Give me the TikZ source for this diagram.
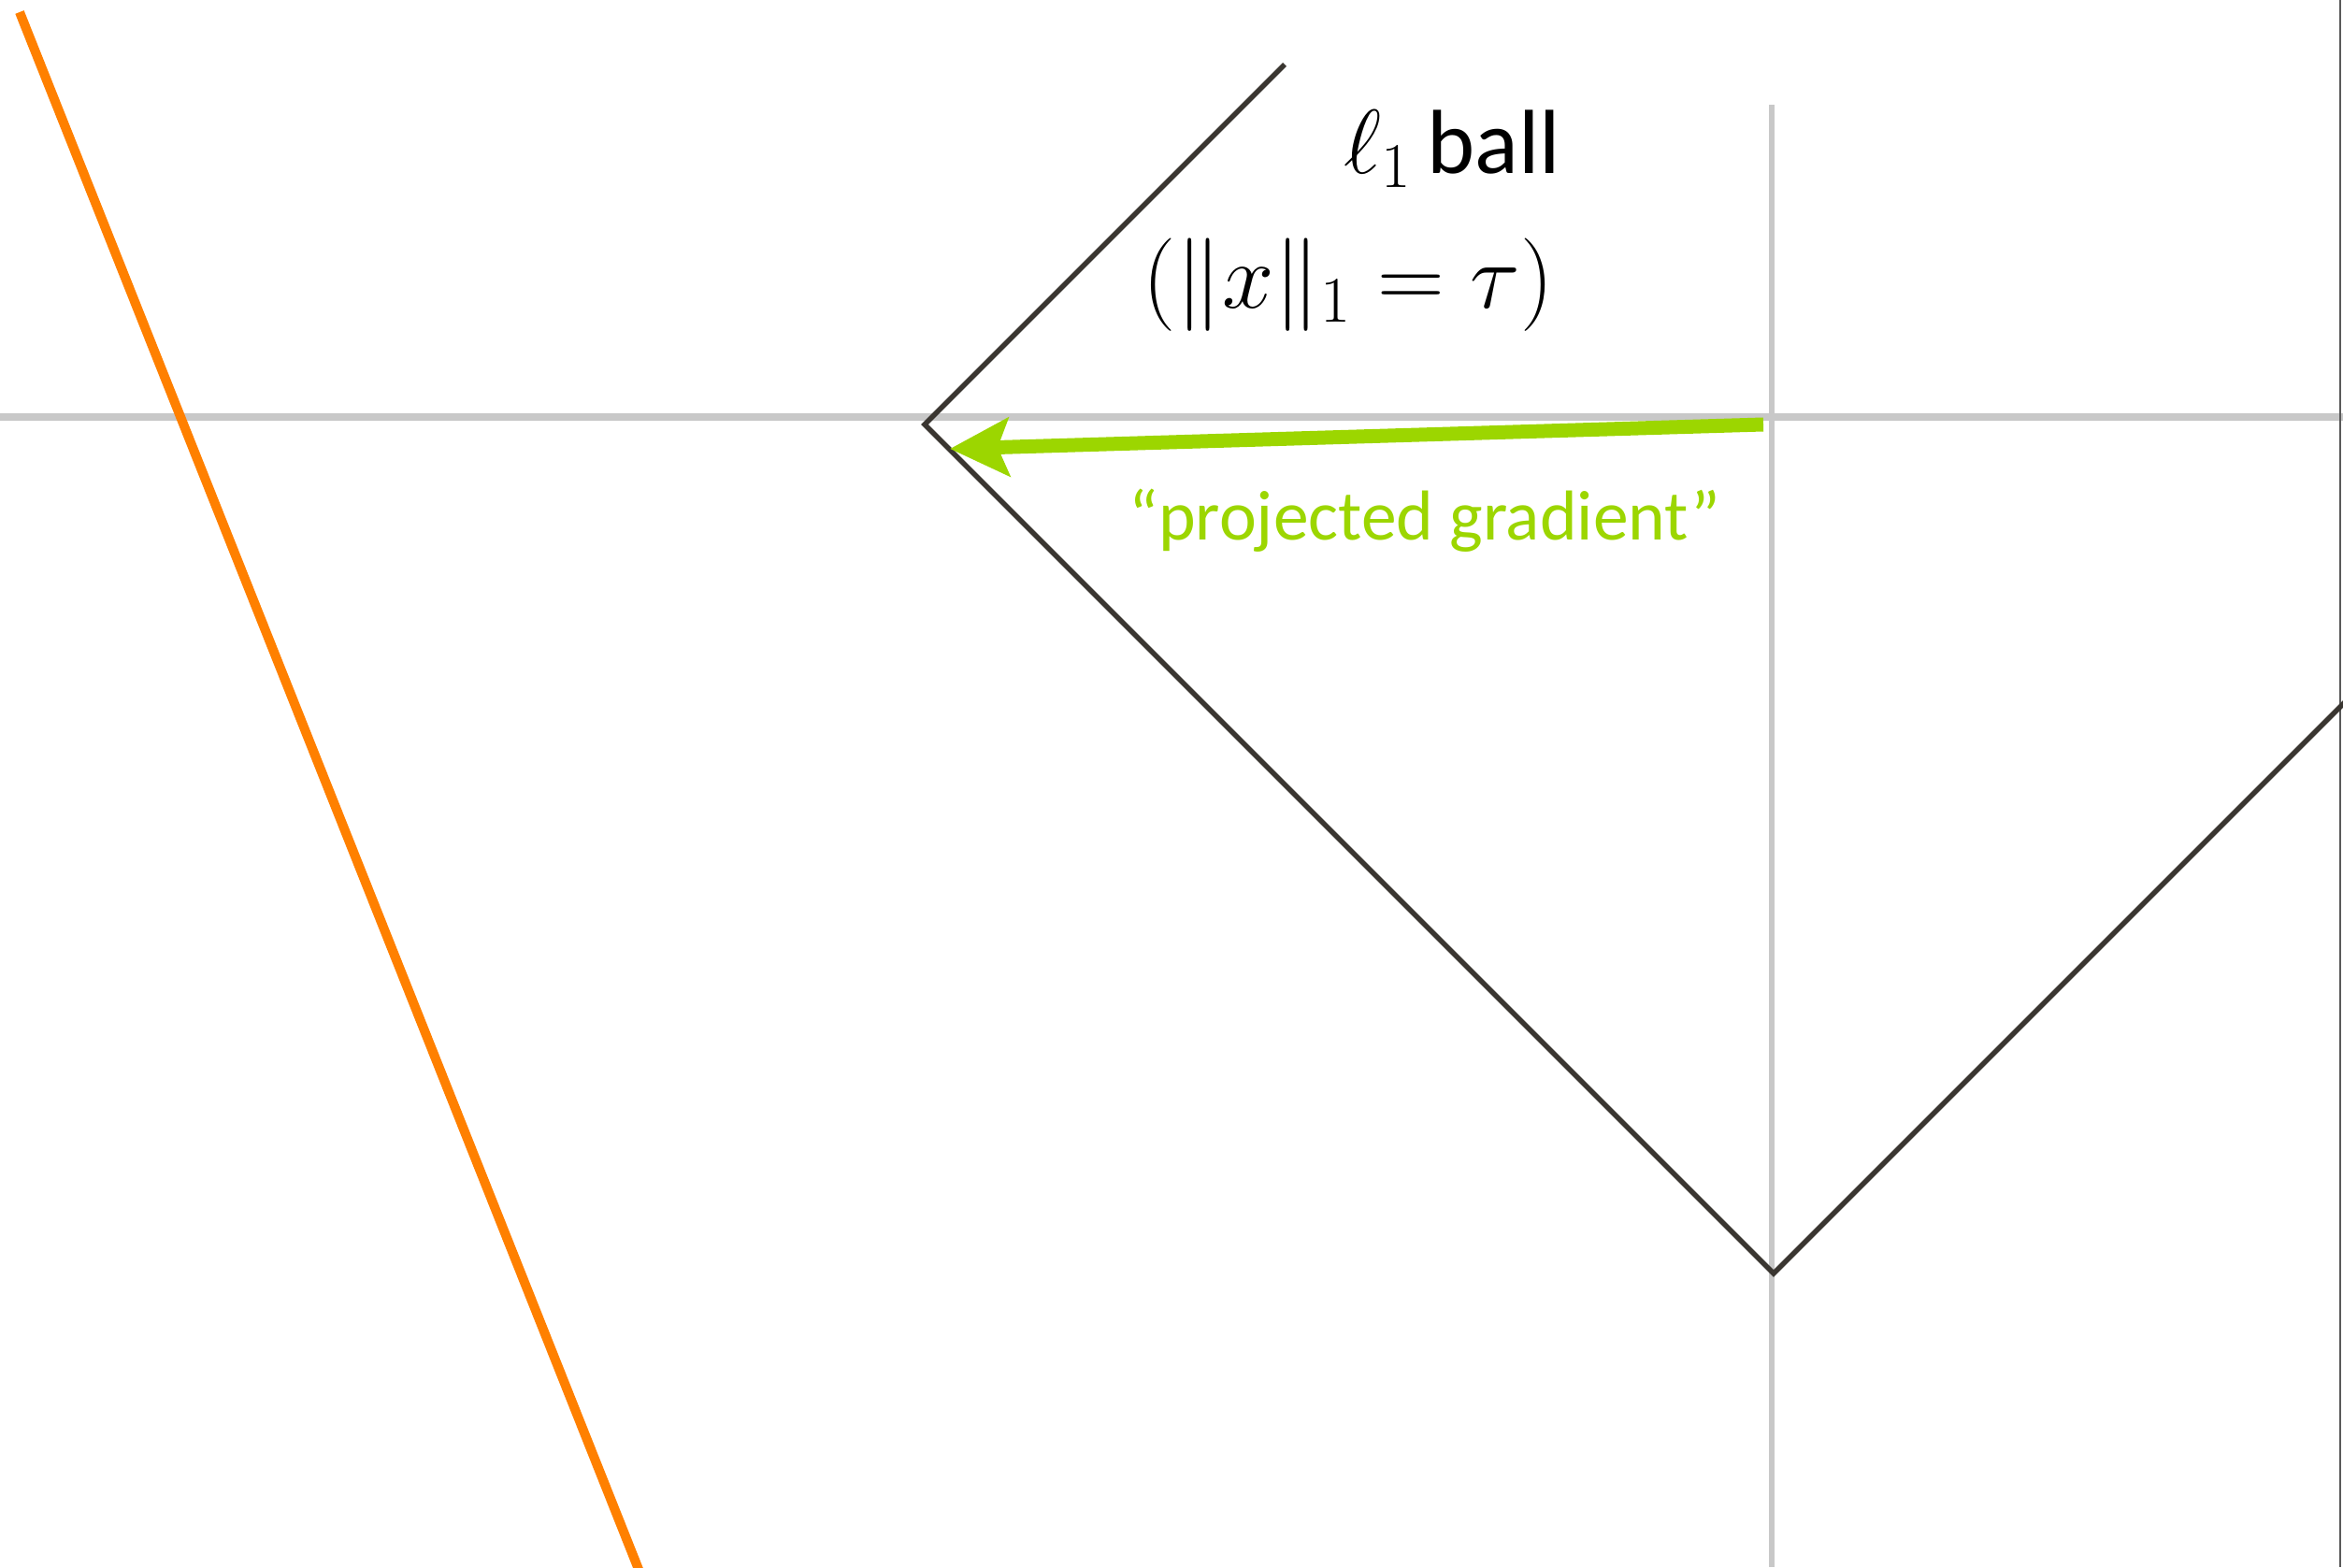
\RequirePackage{fix-cm}
\documentclass[tikz,border=0pt]{standalone}
\usepackage{tikz}
\usetikzlibrary{arrows.meta, positioning, calc}
\usepackage{amsmath}
\usepackage{fontspec}
\newfontfamily\carlito{Carlito}
\definecolor{axisGray}{HTML}{C8C8C8}
\definecolor{ballDark}{HTML}{3A3631}
\definecolor{gradGreen}{HTML}{9CD600}
\definecolor{lineOrange}{HTML}{FF8000}
\definecolor{edgeGray}{HTML}{5A5A5A}

\begin{document}
\begin{tikzpicture}[
    axis/.style={draw=axisGray, line width=0.08cm},
    ball/.style={draw=ballDark, line width=0.055cm, line join=miter},
    grad/.style={draw=gradGreen, line width=0.15cm,
                 -{Stealth[length=0.63cm, width=0.62cm, inset=0.12cm]}},
    lbl/.style={inner sep=0pt, anchor=base,
                font=\fontsize{27.7}{33}\selectfont\color{black}},
    gradlbl/.style={inner sep=0pt, anchor=base,
                font=\carlito\fontsize{21.5}{26}\selectfont\color{gradGreen}},
  ]
    \useasboundingbox (0,0) rectangle (25.06,16.76);
    \clip (0,0) rectangle (25.06,16.76);

    % axes
    \coordinate (O) at (18.97,12.22);
    \draw[axis] (0,12.30) -- (25.06,12.30);
    \draw[axis, line width=0.065cm] (18.95,15.64) -- (18.95,0);
    \draw[draw=edgeGray, line width=0.02cm] (25.03,16.76) -- (25.03,0);

    % orange line
    \draw[draw=lineOrange, line width=0.10cm] (0.21,16.63) -- (6.90,-0.20);

    % l1 ball
    \coordinate (left) at ($(O)+(-9.08,0)$);
    \coordinate (bottom) at ($(O)+(0,-9.08)$);
    \draw[ball] (13.74,16.07) -- (left) -- (bottom) -- ($(bottom)+(6.5,6.5)$);

    % labels
    \node[lbl] (balllbl) at (15.53,14.90) {$\ell_1${\carlito\,ball}};
    \node[lbl, font=\fontsize{28.3}{34}\selectfont] (norm) at (14.42,13.46)
      {$(\|x\|_1 = \tau)$};

    % projected gradient
    \coordinate (gstart) at (18.86,12.22);
    \coordinate (gend) at (10.16,11.96);
    \draw[grad] (gstart) -- (gend);
    \node[gradlbl] (gradlbl) at (15.24,10.98) {“projected gradient”};
  \end{tikzpicture}
\end{document}
